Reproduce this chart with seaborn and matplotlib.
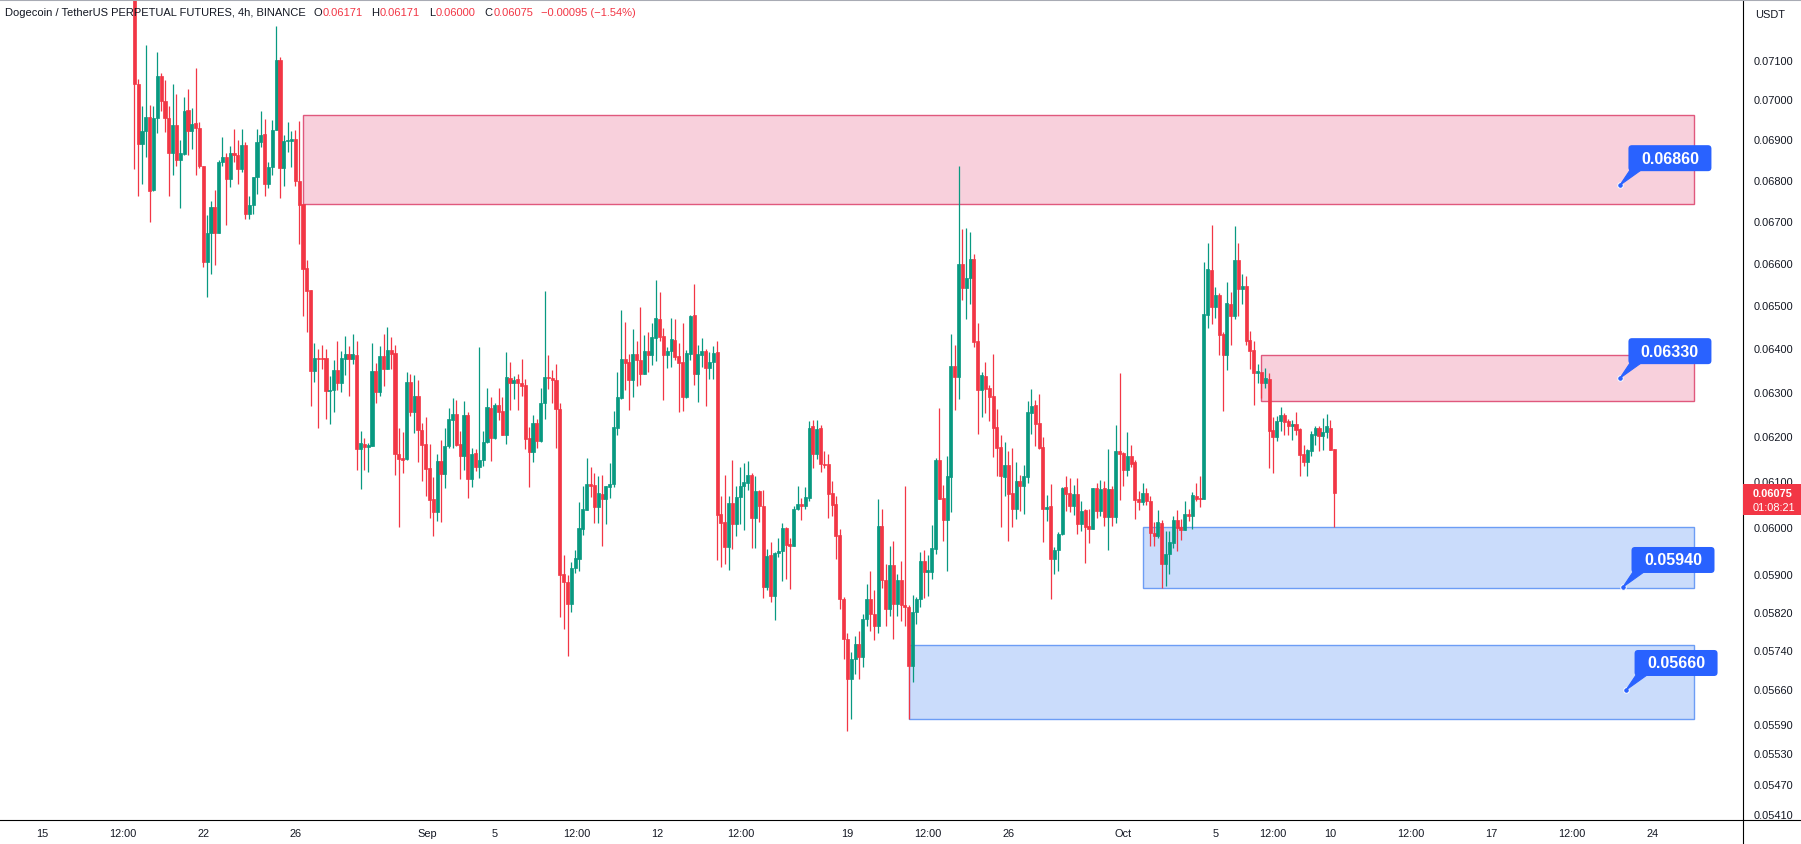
import numpy as np
import pandas as pd
import matplotlib
matplotlib.use("Agg")
import matplotlib.pyplot as plt
import seaborn as sns
from matplotlib.patches import Rectangle, FancyBboxPatch, Polygon
from matplotlib.transforms import IdentityTransform
from matplotlib.lines import Line2D
from matplotlib.ticker import FixedLocator, FuncFormatter, NullLocator

# ---------------- data (4h candles, DOGE/USDT perpetual) ----------------
opens = [
    0.0731, 0.07039, 0.06889, 0.06922, 0.06957, 0.06775, 0.06953, 0.07059, 0.06995, 0.06953,
    0.06865, 0.06936, 0.06850, 0.06863, 0.06974, 0.06922, 0.06940, 0.06929, 0.06833, 0.06601,
    0.06671, 0.06734, 0.06671, 0.06845, 0.06857, 0.06802, 0.06866, 0.06861, 0.06827, 0.06887,
    0.06717, 0.06739, 0.06807, 0.06893, 0.06913, 0.06789, 0.06832, 0.06924, 0.07100, 0.06830,
    0.06895, 0.06895, 0.06902, 0.06796, 0.06742, 0.06587, 0.06535, 0.06347, 0.06376, 0.06378,
    0.06376, 0.06302, 0.06304, 0.06350, 0.06321, 0.06374, 0.06386, 0.06374, 0.06383, 0.06171,
    0.06182, 0.06176, 0.06178, 0.06347, 0.06299, 0.06381, 0.06352, 0.06395, 0.06388, 0.06160,
    0.06151, 0.06149, 0.06322, 0.06255, 0.06290, 0.06214, 0.06182, 0.06129, 0.06061, 0.06033,
    0.06145, 0.06116, 0.06178, 0.06236, 0.06250, 0.06182, 0.06156, 0.06247, 0.06105, 0.06162,
    0.06131, 0.06147, 0.06187, 0.06263, 0.06195, 0.06270, 0.06256, 0.06202, 0.06331, 0.06320,
    0.06329, 0.06320, 0.06315, 0.06195, 0.06164, 0.06229, 0.06189, 0.06274, 0.06334, 0.06331,
    0.06327, 0.06261, 0.05899, 0.05883, 0.05836, 0.05912, 0.05931, 0.05996, 0.06037, 0.06094,
    0.06092, 0.06043, 0.06072, 0.06061, 0.06088, 0.06094, 0.06218, 0.06285, 0.06374, 0.06367,
    0.06327, 0.06386, 0.06372, 0.06340, 0.06393, 0.06383, 0.06423, 0.06468, 0.06427, 0.06383,
    0.06393, 0.06419, 0.06381, 0.06367, 0.06288, 0.06386, 0.06477, 0.06340, 0.06383, 0.06393,
    0.06354, 0.06367, 0.06390, 0.06028, 0.06011, 0.05957, 0.06052, 0.06006, 0.06065, 0.06090,
    0.06096, 0.06114, 0.06019, 0.06078, 0.06045, 0.05871, 0.05940, 0.05852, 0.05944, 0.05948,
    0.05998, 0.05964, 0.05959, 0.06039, 0.06050, 0.06046, 0.06063, 0.06222, 0.06160, 0.06218,
    0.06138, 0.06138, 0.06074, 0.06050, 0.05983, 0.05846, 0.05763, 0.05680, 0.05721, 0.05752,
    0.05725, 0.05804, 0.05846, 0.05815, 0.05790, 0.06002, 0.05887, 0.05825, 0.05918, 0.05836,
    0.05887, 0.05834, 0.05829, 0.05707, 0.05820, 0.05846, 0.05927, 0.05903, 0.05903, 0.05953,
    0.06147, 0.06063, 0.06015, 0.06110, 0.06358, 0.06334, 0.06597, 0.06540, 0.06563, 0.06609,
    0.06416, 0.06304, 0.06336, 0.06308, 0.06290, 0.06220, 0.06176, 0.06110, 0.06136, 0.06074,
    0.06039, 0.06101, 0.06090, 0.06110, 0.06252, 0.06270, 0.06229, 0.06176, 0.06039, 0.06045,
    0.05931, 0.05951, 0.05985, 0.06087, 0.06074, 0.06045, 0.06072, 0.06006, 0.06037, 0.06002,
    0.05996, 0.06085, 0.06035, 0.06085, 0.06022, 0.06083, 0.06022, 0.06167, 0.06162, 0.06125,
    0.06156, 0.06142, 0.06061, 0.06054, 0.06074, 0.06057, 0.05987, 0.05981, 0.06009, 0.05921,
    0.05942, 0.05966, 0.06015, 0.06000, 0.05994, 0.06028, 0.06024, 0.06067, 0.06063, 0.06061,
    0.06477, 0.06583, 0.06495, 0.06524, 0.06432, 0.06383, 0.06503, 0.06475, 0.06606, 0.06538,
    0.06545, 0.06419, 0.06395, 0.06343, 0.06345, 0.06320, 0.06329, 0.06213, 0.06198, 0.06234,
    0.06247, 0.06234, 0.06222, 0.06227, 0.06216, 0.06160, 0.06142, 0.06167, 0.06202, 0.06218,
    0.06200, 0.06209, 0.06218, 0.06171,
]
highs = [
    0.0736, 0.07052, 0.06983, 0.07138, 0.06986, 0.06983, 0.07121, 0.07067, 0.07049, 0.06984,
    0.07039, 0.07014, 0.06899, 0.07005, 0.07026, 0.06978, 0.07081, 0.06944, 0.06835, 0.06715,
    0.06749, 0.06774, 0.06849, 0.06906, 0.06866, 0.06884, 0.06926, 0.06899, 0.06926, 0.06893,
    0.06761, 0.06807, 0.06926, 0.06971, 0.06951, 0.06845, 0.06949, 0.07189, 0.07109, 0.06910,
    0.06943, 0.06922, 0.06924, 0.06947, 0.06742, 0.06607, 0.06535, 0.06411, 0.06397, 0.06406,
    0.06399, 0.06336, 0.06372, 0.06416, 0.06393, 0.06428, 0.06404, 0.06432, 0.06416, 0.06211,
    0.06197, 0.06184, 0.06411, 0.06365, 0.06404, 0.06432, 0.06449, 0.06425, 0.06406, 0.06218,
    0.06209, 0.06345, 0.06340, 0.06338, 0.06327, 0.06229, 0.06243, 0.06182, 0.06110, 0.06160,
    0.06191, 0.06218, 0.06263, 0.06285, 0.06281, 0.06211, 0.06278, 0.06254, 0.06173, 0.06171,
    0.06402, 0.06211, 0.06308, 0.06288, 0.06274, 0.06308, 0.06288, 0.06390, 0.06367, 0.06336,
    0.06340, 0.06374, 0.06329, 0.06220, 0.06247, 0.06238, 0.06308, 0.06533, 0.06383, 0.06350,
    0.06363, 0.06274, 0.05940, 0.05897, 0.05925, 0.05951, 0.06054, 0.06089, 0.06151, 0.06132,
    0.06118, 0.06112, 0.06114, 0.06090, 0.06140, 0.06256, 0.06345, 0.06489, 0.06461, 0.06386,
    0.06444, 0.06416, 0.06496, 0.06430, 0.06437, 0.06458, 0.06559, 0.06531, 0.06447, 0.06402,
    0.06470, 0.06468, 0.06411, 0.06458, 0.06395, 0.06477, 0.06549, 0.06406, 0.06423, 0.06399,
    0.06390, 0.06404, 0.06416, 0.06067, 0.06114, 0.06067, 0.06147, 0.06090, 0.06132, 0.06140,
    0.06145, 0.06118, 0.06112, 0.06081, 0.06081, 0.05953, 0.05968, 0.05946, 0.05977, 0.06009,
    0.06000, 0.05977, 0.06045, 0.06090, 0.06063, 0.06087, 0.06233, 0.06237, 0.06236, 0.06225,
    0.06167, 0.06160, 0.06101, 0.06067, 0.05996, 0.05850, 0.05775, 0.05735, 0.05770, 0.05780,
    0.05815, 0.05878, 0.05906, 0.05865, 0.06061, 0.06039, 0.05921, 0.05959, 0.05970, 0.05899,
    0.05927, 0.06089, 0.05835, 0.05855, 0.05850, 0.05946, 0.05951, 0.05940, 0.06004, 0.06151,
    0.06263, 0.06092, 0.06156, 0.06432, 0.06406, 0.06833, 0.06681, 0.06683, 0.06674, 0.06620,
    0.06458, 0.06345, 0.06367, 0.06315, 0.06386, 0.06261, 0.06202, 0.06187, 0.06167, 0.06173,
    0.06142, 0.06114, 0.06136, 0.06278, 0.06306, 0.06281, 0.06294, 0.06198, 0.06070, 0.06094,
    0.05957, 0.05989, 0.06087, 0.06112, 0.06107, 0.06092, 0.06107, 0.06057, 0.06039, 0.06039,
    0.06085, 0.06096, 0.06103, 0.06101, 0.06171, 0.06090, 0.06225, 0.06343, 0.06164, 0.06209,
    0.06180, 0.06147, 0.06078, 0.06096, 0.06085, 0.06067, 0.06011, 0.06037, 0.06015, 0.05991,
    0.05991, 0.06024, 0.06037, 0.06017, 0.06057, 0.06039, 0.06076, 0.06096, 0.06112, 0.06602,
    0.06646, 0.06690, 0.06542, 0.06528, 0.06437, 0.06554, 0.06531, 0.06688, 0.06646, 0.06573,
    0.06568, 0.06439, 0.06416, 0.06363, 0.06345, 0.06354, 0.06343, 0.06243, 0.06245, 0.06265,
    0.06252, 0.06238, 0.06236, 0.06254, 0.06218, 0.06180, 0.06171, 0.06211, 0.06222, 0.06222,
    0.06240, 0.06250, 0.06236, 0.06171,
]
lows = [
    0.06827, 0.06761, 0.06790, 0.06857, 0.06698, 0.06773, 0.06916, 0.06972, 0.06919, 0.06761,
    0.06811, 0.06833, 0.06732, 0.06860, 0.06860, 0.06876, 0.06811, 0.06829, 0.06589, 0.06518,
    0.06573, 0.06594, 0.06671, 0.06835, 0.06691, 0.06782, 0.06845, 0.06790, 0.06819, 0.06705,
    0.06705, 0.06717, 0.06765, 0.06880, 0.06760, 0.06780, 0.06811, 0.06924, 0.06755, 0.06786,
    0.06868, 0.06831, 0.06786, 0.06644, 0.06475, 0.06437, 0.06267, 0.06323, 0.06219, 0.06352,
    0.06238, 0.06227, 0.06255, 0.06304, 0.06300, 0.06338, 0.06290, 0.06363, 0.06125, 0.06083,
    0.06125, 0.06121, 0.06178, 0.06274, 0.06290, 0.06313, 0.06352, 0.06352, 0.06114, 0.06000,
    0.06118, 0.06147, 0.06245, 0.06207, 0.06142, 0.06101, 0.06068, 0.06019, 0.05980, 0.06013,
    0.06011, 0.06085, 0.06173, 0.06173, 0.06178, 0.06105, 0.06125, 0.06063, 0.06087, 0.06123,
    0.06107, 0.06134, 0.06184, 0.06145, 0.06193, 0.06236, 0.06202, 0.06182, 0.06258, 0.06283,
    0.06258, 0.06290, 0.06171, 0.06087, 0.06142, 0.06173, 0.06187, 0.06238, 0.06306, 0.06274,
    0.06173, 0.05808, 0.05784, 0.05727, 0.05819, 0.05902, 0.05906, 0.05983, 0.06037, 0.06065,
    0.06009, 0.06009, 0.05959, 0.06006, 0.06063, 0.06088, 0.06202, 0.06283, 0.06304, 0.06258,
    0.06288, 0.06313, 0.06315, 0.06340, 0.06345, 0.06361, 0.06370, 0.06416, 0.06281, 0.06354,
    0.06356, 0.06372, 0.06254, 0.06256, 0.06285, 0.06372, 0.06315, 0.06276, 0.06356, 0.06267,
    0.06329, 0.06329, 0.05929, 0.05914, 0.05921, 0.05908, 0.05953, 0.05980, 0.06006, 0.05994,
    0.06081, 0.05955, 0.05955, 0.06011, 0.05848, 0.05865, 0.05840, 0.05802, 0.05936, 0.05884,
    0.05889, 0.05867, 0.05959, 0.06037, 0.06015, 0.06039, 0.06057, 0.06129, 0.06149, 0.06121,
    0.06129, 0.06019, 0.06024, 0.05931, 0.05825, 0.05721, 0.05575, 0.05599, 0.05690, 0.05680,
    0.05705, 0.05790, 0.05780, 0.05760, 0.05775, 0.05870, 0.05790, 0.05810, 0.05763, 0.05810,
    0.05800, 0.05790, 0.05599, 0.05674, 0.05795, 0.05830, 0.05848, 0.05852, 0.05889, 0.05942,
    0.06061, 0.05970, 0.05906, 0.06033, 0.06258, 0.06283, 0.06512, 0.06468, 0.06503, 0.06402,
    0.06204, 0.06243, 0.06252, 0.06234, 0.06153, 0.06112, 0.06000, 0.06067, 0.05970, 0.06000,
    0.06017, 0.06035, 0.06028, 0.06096, 0.06204, 0.06178, 0.06171, 0.05968, 0.06013, 0.05846,
    0.05899, 0.05906, 0.05983, 0.06035, 0.06033, 0.06026, 0.05985, 0.05991, 0.05923, 0.05966,
    0.05996, 0.06019, 0.06024, 0.06002, 0.05951, 0.06002, 0.06009, 0.06059, 0.06090, 0.06112,
    0.06132, 0.06017, 0.06037, 0.06048, 0.06048, 0.05959, 0.05959, 0.05976, 0.05870, 0.05874,
    0.05899, 0.05955, 0.05948, 0.05972, 0.05994, 0.06013, 0.05996, 0.06057, 0.06043, 0.06061,
    0.06447, 0.06456, 0.06470, 0.06383, 0.06256, 0.06350, 0.06406, 0.06468, 0.06475, 0.06503,
    0.06406, 0.06352, 0.06270, 0.06320, 0.06285, 0.06308, 0.06129, 0.06118, 0.06189, 0.06211,
    0.06202, 0.06202, 0.06191, 0.06202, 0.06112, 0.06134, 0.06112, 0.06156, 0.06180, 0.06167,
    0.06169, 0.06195, 0.06169, 0.06000,
]
closes = [
    0.07039, 0.06889, 0.06922, 0.06957, 0.06773, 0.06953, 0.07059, 0.06995, 0.06953, 0.06865,
    0.06936, 0.06850, 0.06866, 0.06971, 0.06922, 0.06939, 0.06929, 0.06833, 0.06601, 0.06671,
    0.06734, 0.06671, 0.06845, 0.06857, 0.06802, 0.06865, 0.06861, 0.06827, 0.06887, 0.06717,
    0.06739, 0.06807, 0.06893, 0.06911, 0.06789, 0.06832, 0.06924, 0.07100, 0.06830, 0.06897,
    0.06899, 0.06901, 0.06796, 0.06739, 0.06585, 0.06533, 0.06347, 0.06376, 0.06374, 0.06374,
    0.06302, 0.06304, 0.06350, 0.06321, 0.06376, 0.06386, 0.06374, 0.06386, 0.06171, 0.06184,
    0.06176, 0.06180, 0.06347, 0.06299, 0.06381, 0.06352, 0.06395, 0.06386, 0.06160, 0.06149,
    0.06147, 0.06322, 0.06255, 0.06290, 0.06214, 0.06180, 0.06127, 0.06059, 0.06033, 0.06145,
    0.06116, 0.06178, 0.06238, 0.06250, 0.06180, 0.06156, 0.06247, 0.06105, 0.06160, 0.06131,
    0.06147, 0.06187, 0.06265, 0.06195, 0.06270, 0.06254, 0.06202, 0.06334, 0.06320, 0.06327,
    0.06320, 0.06313, 0.06193, 0.06164, 0.06229, 0.06189, 0.06274, 0.06334, 0.06331, 0.06327,
    0.06261, 0.05897, 0.05883, 0.05836, 0.05912, 0.05933, 0.05998, 0.06039, 0.06094, 0.06090,
    0.06043, 0.06074, 0.06061, 0.06090, 0.06094, 0.06220, 0.06288, 0.06374, 0.06365, 0.06327,
    0.06386, 0.06372, 0.06340, 0.06393, 0.06383, 0.06425, 0.06470, 0.06425, 0.06383, 0.06393,
    0.06421, 0.06379, 0.06365, 0.06288, 0.06388, 0.06475, 0.06340, 0.06386, 0.06393, 0.06354,
    0.06367, 0.06388, 0.06026, 0.06009, 0.05957, 0.06052, 0.06006, 0.06065, 0.06090, 0.06098,
    0.06114, 0.06019, 0.06078, 0.06045, 0.05871, 0.05938, 0.05852, 0.05944, 0.05948, 0.05998,
    0.05961, 0.05959, 0.06039, 0.06050, 0.06046, 0.06065, 0.06219, 0.06160, 0.06216, 0.06138,
    0.06136, 0.06072, 0.06048, 0.05980, 0.05846, 0.05763, 0.05680, 0.05721, 0.05752, 0.05725,
    0.05804, 0.05846, 0.05815, 0.05790, 0.06002, 0.05887, 0.05825, 0.05918, 0.05836, 0.05887,
    0.05834, 0.05829, 0.05707, 0.05820, 0.05846, 0.05927, 0.05903, 0.05908, 0.05955, 0.06147,
    0.06061, 0.06015, 0.06112, 0.06358, 0.06334, 0.06597, 0.06540, 0.06563, 0.06609, 0.06414,
    0.06304, 0.06338, 0.06306, 0.06288, 0.06218, 0.06173, 0.06112, 0.06136, 0.06072, 0.06039,
    0.06101, 0.06090, 0.06112, 0.06254, 0.06267, 0.06227, 0.06173, 0.06039, 0.06043, 0.05931,
    0.05951, 0.05985, 0.06085, 0.06072, 0.06045, 0.06072, 0.06006, 0.06035, 0.06000, 0.05996,
    0.06085, 0.06035, 0.06083, 0.06022, 0.06083, 0.06022, 0.06167, 0.06160, 0.06125, 0.06156,
    0.06138, 0.06059, 0.06054, 0.06074, 0.06057, 0.05987, 0.05981, 0.06011, 0.05921, 0.05942,
    0.05968, 0.06015, 0.05998, 0.05994, 0.06028, 0.06024, 0.06070, 0.06061, 0.06061, 0.06479,
    0.06585, 0.06495, 0.06524, 0.06430, 0.06383, 0.06505, 0.06475, 0.06606, 0.06538, 0.06545,
    0.06416, 0.06393, 0.06343, 0.06347, 0.06320, 0.06331, 0.06211, 0.06198, 0.06234, 0.06247,
    0.06232, 0.06222, 0.06227, 0.06214, 0.06158, 0.06142, 0.06169, 0.06204, 0.06218, 0.06200,
    0.06209, 0.06222, 0.06169, 0.06075,
]

# x-axis (bar index) tick labels
xtick_pos = [-24, -3, 18, 42, 76.4, 94.1, 115.4, 136.3, 158.2, 186, 207, 228, 258, 282, 297, 312, 333, 354, 375, 396]
xtick_labels = ["15", "12:00", "22", "26", "Sep", "5", "12:00", "12", "12:00", "19",
                "12:00", "26", "Oct", "5", "12:00", "10", "12:00", "17", "12:00", "24"]
ytick_values = [0.071, 0.070, 0.069, 0.068, 0.067, 0.066, 0.065, 0.064, 0.063, 0.062,
                0.061, 0.060, 0.059, 0.0582, 0.0574, 0.0566, 0.0559, 0.0553, 0.0547, 0.0541]

# supply / demand zones
zone_start = [44, 294, 263, 202]
zone_end = 406.8
zone_low = [0.0674, 0.0628, 0.0587, 0.0560]
zone_high = [0.0696, 0.06385, 0.0600, 0.0575]
zone_kind = ["supply", "supply", "demand", "demand"]

# callout labels
label_text = ["0.06860", "0.06330", "0.05940", "0.05660"]
label_x = [387.5, 387.5, 388.3, 389.1]
label_price = [0.06787, 0.06331, 0.05872, 0.05658]

last_price_text = "0.06075"
countdown_text = "01:08:21"

# ---------------- styling ----------------
sns.set_theme(style="white")
plt.rcParams["font.family"] = ["Liberation Sans", "DejaVu Sans"]

UP = "#089981"
DOWN = "#f23645"
TXT = "#131722"
W, H = 1801, 845

df = pd.DataFrame({"open": opens, "high": highs, "low": lows, "close": closes})
df["idx"] = np.arange(len(df))
df["up"] = df["close"] >= df["open"]
cols = np.where(df["up"], UP, DOWN)

fig = plt.figure(figsize=(W / 100, H / 100), dpi=100, facecolor="white")
ax = fig.add_axes([0, 24 / H, 1743 / W, 821 / H])
ax.set_facecolor("white")
ax.set_yscale("log")
ax.set_xlim(-35.03, 419.6)
ax.set_ylim(0.05399, 0.07258)

# zones
for s, lo, hi, k in zip(zone_start, zone_low, zone_high, zone_kind):
    if k == "supply":
        fc, ec = "#f8d0dc", "#e0587d"
    else:
        fc, ec = "#cadcfb", "#6c9df5"
    ax.add_patch(Rectangle((s, lo), zone_end - s, hi - lo, facecolor=fc,
                           edgecolor=ec, linewidth=1.0, zorder=1))

# candles
ax.vlines(df["idx"], df["low"], df["high"], colors=cols, linewidth=0.9, zorder=2)
body_lo = np.minimum(df["open"], df["close"])
body_h = np.abs(df["close"] - df["open"])
ax.bar(df["idx"], body_h, bottom=body_lo, width=0.8, color=cols,
       edgecolor=cols, linewidth=0.5, zorder=3)

# axes styling
for sp in ["top", "left"]:
    ax.spines[sp].set_visible(False)
for sp in ["right", "bottom"]:
    ax.spines[sp].set_color("black")
    ax.spines[sp].set_linewidth(0.8)

ax.yaxis.tick_right()
ax.yaxis.set_major_locator(FixedLocator(ytick_values))
ax.yaxis.set_minor_locator(NullLocator())
ax.yaxis.set_major_formatter(FuncFormatter(lambda v, p: f"{v:.5f}"))
ax.yaxis.set_minor_formatter(FuncFormatter(lambda v, p: ""))
ax.tick_params(axis="y", which="both", length=0, pad=8, labelsize=7.9, labelcolor=TXT)
ax.set_xticks(xtick_pos)
ax.set_xticklabels(xtick_labels)
ax.tick_params(axis="x", length=0, pad=6, labelsize=7.9, labelcolor=TXT)
ax.grid(False)

# extensions of the axis lines
fig.add_artist(Line2D([1743 / W, 1743 / W], [0, 24 / H], color="black", lw=0.8, transform=fig.transFigure))
fig.add_artist(Line2D([1743 / W, 1], [24 / H, 24 / H], color="black", lw=0.8, transform=fig.transFigure))
fig.add_artist(Line2D([0, 1], [1 - 0.5 / H, 1 - 0.5 / H], color="#a8abb4", lw=1.5, transform=fig.transFigure))

fig.text(1755 / W, 1 - 15 / H, "USDT", fontsize=7.9, color=TXT, va="center", ha="left")

# callouts
ident = IdentityTransform()
for t, lx, lp in zip(label_text, label_x, label_price):
    cx, cy = ax.transData.transform((lx, lp))
    bx, by = cx + 50, cy + 27
    poly = Polygon([(cx, cy), (cx + 10, cy + 15), (cx + 21, cy + 15)], closed=True,
                   facecolor="#2962ff", edgecolor="#2962ff", linewidth=0.8,
                   transform=ident, zorder=6)
    fig.add_artist(poly)
    box = FancyBboxPatch((bx - 41.5, by - 13), 83, 26, boxstyle="round,pad=0,rounding_size=3.5",
                         facecolor="#2962ff", edgecolor="none", transform=ident, zorder=7)
    fig.add_artist(box)
    fig.text(bx / W, by / H, t, color="white", fontsize=11.5, fontweight="bold",
             ha="center", va="center", zorder=8)
    ax.plot([lx], [lp], marker="o", ms=4, mfc="#2962ff", mec="white", mew=0.7,
            zorder=9, clip_on=False)

# last price tag on the price scale
_, py = ax.transData.transform((0, closes[-1]))
fig.add_artist(Rectangle((1743, py - 22), W - 1743, 30.5, facecolor=DOWN, edgecolor="none",
                         transform=ident, zorder=10))
fig.text(1753 / W, py / H, last_price_text, color="white", fontsize=7.9, fontweight="bold",
         ha="left", va="center", zorder=11)
fig.text(1753 / W, (py - 14.5) / H, countdown_text, color="white", fontsize=7.9,
         ha="left", va="center", zorder=11)

# legend line at the top left
renderer = fig.canvas.get_renderer()
pieces = [
    ("Dogecoin / TetherUS PERPETUAL FUTURES, 4h, BINANCE", TXT, 8),
    ("O", TXT, 0.5), ("0.06171", DOWN, 9),
    ("H", TXT, 0.5), ("0.06171", DOWN, 9),
    ("L", TXT, 0.5), ("0.06000", DOWN, 9),
    ("C", TXT, 0.5), ("0.06075", DOWN, 8),
    ("\u22120.00095 (\u22121.54%)", DOWN, 0),
]
xcur = 4.5
for s, c, gap in pieces:
    tt = fig.text(xcur / W, (H - 13) / H, s, color=c, fontsize=8.0, ha="left", va="center")
    bb = tt.get_window_extent(renderer)
    xcur = bb.x1 + gap

fig.savefig("out.png", dpi=100, facecolor="white")
